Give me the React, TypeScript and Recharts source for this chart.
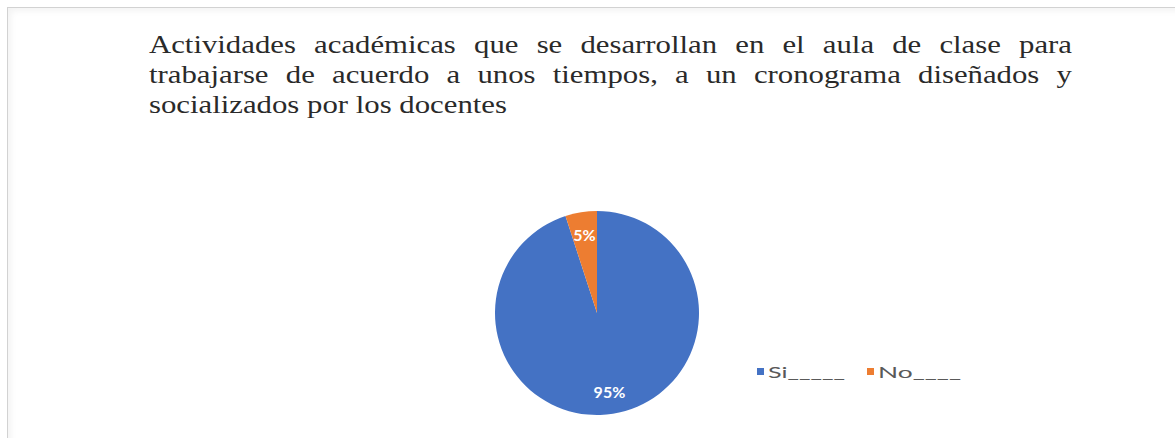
import React from 'react';
import { PieChart, Pie, Cell, Legend } from 'recharts';

const categories = ['Si', 'No'];
const values = [95, 5];
const legendLabels = ['Si_____', 'No____'];
const titleLines = [
  'Actividades académicas que se desarrollan en el aula de clase para',
  'trabajarse de acuerdo a unos tiempos, a un cronograma diseñados y',
  'socializados por los docentes',
];
const colors = ['#4472C4', '#ED7D31'];

const data = categories.map((c, i) => ({ name: c, value: values[i], label: legendLabels[i] }));
const total = values.reduce((a, b) => a + b, 0);

const RAD = Math.PI / 180;

const TITLE_FONT = '"Liberation Serif"';
const TITLE_SIZE = 25;
const TITLE_LEFT = 149;
const TITLE_WIDTH = 923;
const LAST_LINE_WIDTH = 358;

let ctx: any = null;
const measure = (s: string) => {
  try {
    if (!ctx) {
      ctx = document.createElement('canvas').getContext('2d');
    }
    ctx.font = `${TITLE_SIZE}px ${TITLE_FONT}, serif`;
    return ctx.measureText(s).width;
  } catch (e) {
    return s.length * TITLE_SIZE * 0.45;
  }
};

const renderLabel = (props: any) => {
  const { cx, cy, midAngle, outerRadius, value } = props;
  const r = outerRadius * 0.78;
  const x = cx + r * Math.cos(-midAngle * RAD);
  const y = cy + r * Math.sin(-midAngle * RAD);
  return (
    <text
      x={x}
      y={y}
      fill="#ffffff"
      textAnchor="middle"
      dominantBaseline="central"
      fontFamily="Lato, 'Open Sans', sans-serif"
      fontWeight={700}
      fontSize={16}
    >
      {`${Math.round((value / total) * 100)}%`}
    </text>
  );
};

const legendWidths = [77, 83];

const renderLegend = () => {
  let x = 0;
  return (
    <svg width={220} height={24}>
      {data.map((d, i) => {
        const x0 = x;
        x += 110;
        return (
          <g key={d.name}>
            <rect x={x0} y={5} width={7} height={7} fill={colors[i]} />
            <text
              x={x0 + 11}
              y={15}
              fontFamily="Lato, 'Open Sans', sans-serif"
              fontSize={15}
              fill="#595959"
              textLength={legendWidths[i]}
              lengthAdjust="spacingAndGlyphs"
            >
              {d.label}
            </text>
          </g>
        );
      })}
    </svg>
  );
};

function Title() {
  const scale = LAST_LINE_WIDTH / measure(titleLines[titleLines.length - 1]);
  const spaceW = measure(' ') * scale;
  const items: any[] = [];
  titleLines.forEach((line, li) => {
    const words = line.split(' ');
    const widths = words.map((w) => measure(w) * scale);
    const sum = widths.reduce((a, b) => a + b, 0);
    const justify = li < titleLines.length - 1;
    const gap = justify && words.length > 1 ? (TITLE_WIDTH - sum) / (words.length - 1) : spaceW;
    let x = TITLE_LEFT;
    const y = 53 + li * 30;
    words.forEach((w, wi) => {
      items.push(
        <text
          key={`${li}-${wi}`}
          transform={`translate(${x},${y}) scale(${scale},1)`}
          fontFamily={TITLE_FONT}
          fontSize={TITLE_SIZE}
          fill="#2a2a2a"
        >
          {w}
        </text>
      );
      x += widths[wi] + gap;
    });
  });
  return (
    <svg style={{ position: 'absolute', left: 0, top: 0 }} width={1175} height={140}>
      {items}
    </svg>
  );
}

export default function App() {
  return (
    <div style={{ position: 'absolute', left: 0, top: 0, width: 1175, height: 438, background: '#ffffff', overflow: 'hidden' }}>
      <div
        style={{
          position: 'absolute',
          left: 7,
          top: 7,
          width: 1175,
          height: 440,
          borderLeft: '1px solid #d2d2d2',
          borderTop: '1px solid #d2d2d2',
          boxShadow: 'inset 3px 3px 6px rgba(0,0,0,0.05)',
        }}
      />
      <Title />
      <div style={{ position: 'absolute', left: 0, top: 0 }}>
        <PieChart width={1175} height={438}>
          <Pie
            data={data}
            dataKey="value"
            nameKey="name"
            cx={592}
            cy={308}
            outerRadius={102}
            startAngle={90}
            endAngle={-270}
            stroke="none"
            label={renderLabel}
            labelLine={false}
            isAnimationActive={false}
          >
            {data.map((d, i) => (
              <Cell key={d.name} fill={colors[i]} />
            ))}
          </Pie>
          <Legend
            content={renderLegend}
            wrapperStyle={{ position: 'absolute', left: 757, top: 363, width: 220, height: 24 }}
          />
        </PieChart>
      </div>
    </div>
  );
}
